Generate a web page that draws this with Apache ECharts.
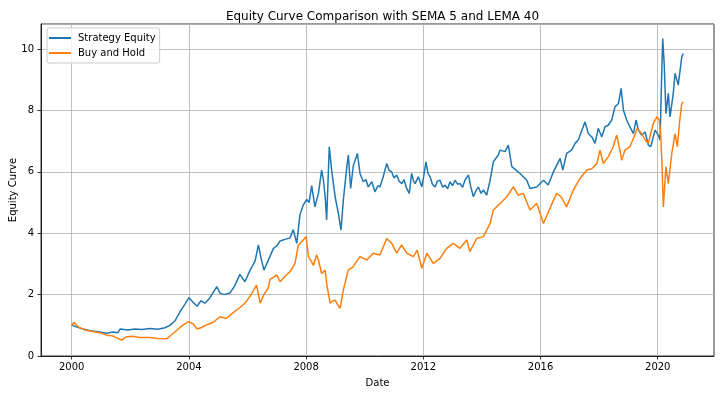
<!DOCTYPE html>
<html>
<head>
<meta charset="utf-8">
<script src="https://cdn.jsdelivr.net/npm/echarts@6/dist/echarts.min.js"></script>
<style>
html,body{margin:0;padding:0;background:#fff;}
#chart{width:720px;height:395px;}
</style>
</head>
<body>
<div id="chart"></div>
<script>
// Dates as decimal years
const strategyDates = [2000.00,2000.15,2000.39,2000.62,2000.90,2001.19,2001.41,2001.58,2001.65,2001.92,2002.16,2002.40,2002.67,2002.95,2003.18,2003.35,2003.53,2003.70,2003.87,2004.00,2004.14,2004.28,2004.41,2004.55,2004.72,2004.95,2005.06,2005.20,2005.40,2005.57,2005.74,2005.91,2006.09,2006.26,2006.37,2006.46,2006.56,2006.70,2006.88,2007.01,2007.11,2007.28,2007.45,2007.56,2007.68,2007.79,2007.89,2008.02,2008.10,2008.19,2008.30,2008.42,2008.53,2008.59,2008.65,2008.70,2008.79,2008.87,2008.99,2009.10,2009.19,2009.27,2009.39,2009.44,2009.52,2009.61,2009.75,2009.84,2009.95,2010.04,2010.12,2010.24,2010.35,2010.45,2010.52,2010.63,2010.75,2010.83,2010.92,2011.00,2011.09,2011.17,2011.26,2011.34,2011.43,2011.52,2011.60,2011.67,2011.72,2011.83,2011.95,2012.02,2012.09,2012.16,2012.23,2012.31,2012.40,2012.48,2012.57,2012.66,2012.74,2012.83,2012.91,2013.00,2013.08,2013.17,2013.25,2013.34,2013.42,2013.54,2013.62,2013.71,2013.80,2013.88,2013.97,2014.05,2014.16,2014.28,2014.39,2014.56,2014.62,2014.79,2014.90,2015.02,2015.30,2015.53,2015.64,2015.87,2016.10,2016.26,2016.44,2016.67,2016.76,2016.89,2017.06,2017.18,2017.29,2017.41,2017.52,2017.63,2017.75,2017.86,2017.97,2018.09,2018.20,2018.31,2018.43,2018.54,2018.66,2018.75,2018.83,2018.94,2019.05,2019.17,2019.26,2019.34,2019.45,2019.57,2019.68,2019.76,2019.91,2020.02,2020.08,2020.13,2020.17,2020.22,2020.28,2020.36,2020.42,2020.53,2020.59,2020.70,2020.76,2020.82,2020.87];
const strategyEquity = [1.02,0.95,0.88,0.82,0.79,0.74,0.78,0.76,0.88,0.85,0.88,0.86,0.90,0.87,0.92,1.00,1.15,1.45,1.70,1.90,1.75,1.62,1.80,1.72,1.90,2.26,2.05,2.00,2.05,2.30,2.66,2.42,2.80,3.10,3.62,3.20,2.80,3.10,3.50,3.60,3.75,3.80,3.85,4.12,3.67,4.60,4.90,5.10,5.00,5.55,4.86,5.30,6.06,5.73,5.19,4.43,6.82,6.06,5.19,4.65,4.10,5.08,6.17,6.55,5.46,6.20,6.60,5.95,5.68,5.75,5.51,5.68,5.35,5.55,5.51,5.84,6.27,6.05,6.00,5.80,5.90,5.70,5.62,5.75,5.46,5.30,5.95,5.70,5.62,5.84,5.51,5.90,6.33,5.95,5.84,5.60,5.51,5.70,5.73,5.50,5.57,5.45,5.68,5.55,5.73,5.60,5.62,5.50,5.73,5.90,5.51,5.19,5.40,5.51,5.30,5.41,5.24,5.73,6.33,6.55,6.71,6.66,6.87,6.17,5.95,5.73,5.46,5.51,5.73,5.57,6.00,6.44,6.06,6.60,6.71,6.93,7.04,7.36,7.63,7.25,7.14,6.93,7.42,7.14,7.47,7.52,7.69,8.12,8.23,8.72,8.01,7.69,7.47,7.25,7.69,7.36,7.20,7.30,6.87,6.82,7.36,7.20,7.04,9.00,10.35,9.53,7.90,8.56,7.79,8.56,9.21,8.83,8.77,9.75,9.86];

const holdDates = [2000.00,2000.08,2000.22,2000.45,2000.69,2000.97,2001.19,2001.38,2001.51,2001.71,2001.85,2002.06,2002.33,2002.67,2002.95,2003.24,2003.42,2003.58,2003.76,2003.98,2004.14,2004.28,2004.41,2004.62,2004.83,2005.06,2005.27,2005.47,2005.74,2005.91,2006.09,2006.31,2006.43,2006.56,2006.70,2006.77,2007.00,2007.11,2007.28,2007.45,2007.56,2007.62,2007.73,2007.90,2008.00,2008.08,2008.17,2008.25,2008.36,2008.42,2008.53,2008.65,2008.71,2008.82,2008.92,2008.99,2009.09,2009.16,2009.27,2009.36,2009.44,2009.61,2009.70,2009.84,2010.07,2010.29,2010.52,2010.75,2010.92,2011.09,2011.26,2011.43,2011.66,2011.79,2011.95,2012.12,2012.34,2012.57,2012.80,2013.02,2013.25,2013.48,2013.59,2013.82,2014.05,2014.28,2014.39,2014.62,2014.85,2015.07,2015.24,2015.41,2015.64,2015.87,2016.10,2016.32,2016.55,2016.70,2016.89,2017.12,2017.35,2017.58,2017.75,2017.92,2018.03,2018.14,2018.31,2018.48,2018.60,2018.71,2018.77,2018.88,2019.05,2019.19,2019.30,2019.45,2019.57,2019.68,2019.76,2019.85,2019.97,2020.05,2020.10,2020.14,2020.19,2020.28,2020.36,2020.48,2020.59,2020.67,2020.74,2020.82,2020.87];
const buyAndHold = [1.00,1.10,0.95,0.85,0.80,0.76,0.68,0.66,0.60,0.52,0.62,0.64,0.60,0.60,0.57,0.56,0.70,0.83,0.98,1.12,1.05,0.88,0.92,1.02,1.10,1.28,1.22,1.38,1.58,1.72,1.95,2.31,1.72,2.00,2.20,2.50,2.64,2.42,2.60,2.75,2.91,3.02,3.60,3.78,3.89,3.24,3.10,2.95,3.30,3.13,2.69,2.80,2.30,1.72,1.80,1.82,1.65,1.55,2.15,2.50,2.80,2.91,3.05,3.24,3.13,3.35,3.29,3.83,3.67,3.35,3.62,3.35,3.24,3.45,2.86,3.35,3.02,3.18,3.51,3.67,3.51,3.78,3.40,3.83,3.89,4.32,4.76,4.97,5.19,5.51,5.24,5.30,4.76,4.97,4.32,4.81,5.30,5.19,4.86,5.41,5.79,6.06,6.10,6.27,6.71,6.27,6.49,6.82,7.20,6.71,6.38,6.71,6.82,7.14,7.42,7.25,7.04,6.93,7.25,7.58,7.79,7.69,7.25,6.38,4.86,6.17,5.62,6.60,7.25,6.82,7.58,8.23,8.28];

const xTickYears = [2000, 2004, 2008, 2012, 2016, 2020];
const seriesNames = ['Strategy Equity', 'Buy and Hold'];

function zip(xs, ys) { return xs.map((x, i) => [x, ys[i]]); }

const font = 'DejaVu Sans';
const chart = echarts.init(document.getElementById('chart'), null, {renderer: 'canvas'});
chart.setOption({
  animation: false,
  backgroundColor: '#fff',
  title: {
    text: 'Equity Curve Comparison with SEMA 5 and LEMA 40',
    left: 377.5, textAlign: 'center', top: 6,
    textStyle: {fontFamily: font, fontSize: 12, fontWeight: 'normal', color: '#000'}
  },
  legend: {
    orient: 'vertical', left: 47, top: 28,
    icon: 'rect', itemWidth: 22, itemHeight: 2, itemGap: 3,
    padding: [4, 4, 4, 2],
    borderColor: '#cccccc', borderWidth: 1, borderRadius: 2, backgroundColor: 'rgba(255,255,255,0.8)',
    textStyle: {fontFamily: font, fontSize: 10, color: '#000', lineHeight: 12, padding: [0,0,0,2]},
    data: seriesNames
  },
  grid: {left: 41, right: 6, top: 24, bottom: 39, outerBoundsMode: 'none', containLabel: false,
         show: true, borderColor: '#000', borderWidth: 0.8, backgroundColor: 'transparent'},
  xAxis: {
    type: 'value', min: 1998.952, max: 2021.92,
    name: 'Date', nameLocation: 'middle', nameGap: 22, nameMoveOverlap: false,
    nameTextStyle: {fontFamily: font, fontSize: 10, color: '#000'},
    axisLine: {show: true, lineStyle: {color: '#000', width: 0.8}},
    axisTick: {show: true, length: 3.5, lineStyle: {color: '#000', width: 0.8}, customValues: xTickYears},
    axisLabel: {fontFamily: font, fontSize: 10, color: '#000', margin: 6, customValues: xTickYears, formatter: v => String(Math.round(v))},
    splitLine: {show: true, lineStyle: {color: '#b0b0b0', width: 0.8}}
  },
  yAxis: {
    type: 'value', min: 0, max: 10.82, interval: 2,
    name: 'Equity Curve', nameLocation: 'middle', nameGap: 23, nameMoveOverlap: false,
    nameTextStyle: {fontFamily: font, fontSize: 10, color: '#000'},
    axisLine: {show: true, lineStyle: {color: '#000', width: 0.8}},
    axisTick: {show: true, length: 3.5, lineStyle: {color: '#000', width: 0.8}},
    axisLabel: {fontFamily: font, fontSize: 10, color: '#000', margin: 7, showMaxLabel: false},
    splitLine: {show: true, lineStyle: {color: '#b0b0b0', width: 0.8}}
  },
  series: [
    {name: seriesNames[0], type: 'line', data: zip(strategyDates, strategyEquity), showSymbol: false, symbol: 'none',
     lineStyle: {color: '#1f77b4', width: 1.5}, itemStyle: {color: '#1f77b4'}},
    {name: seriesNames[1], type: 'line', data: zip(holdDates, buyAndHold), showSymbol: false, symbol: 'none',
     lineStyle: {color: '#ff7f0e', width: 1.5}, itemStyle: {color: '#ff7f0e'}}
  ]
});
</script>
</body>
</html>
